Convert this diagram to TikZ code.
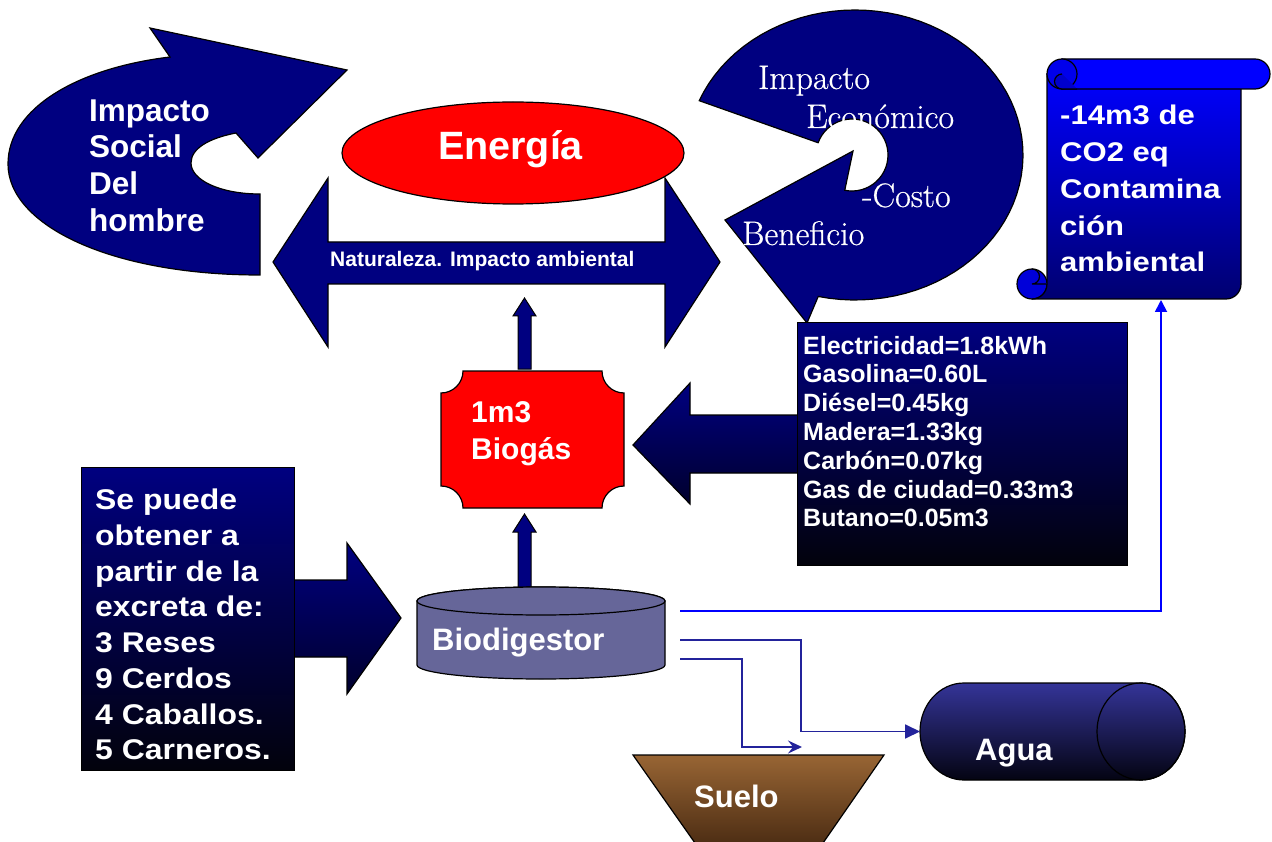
\documentclass[tikz,border=0pt]{standalone}
\usepackage{fontspec}
\setsansfont{Liberation Sans}
\newfontfamily\widesans[FakeStretch=1.15]{Liberation Sans}
\newfontfamily\midsans[FakeStretch=1.12]{Liberation Sans}
\newfontfamily\heavyserif[FakeBold=0.6]{Latin Modern Roman}
\usetikzlibrary{arrows.meta}
\definecolor{navy}{RGB}{0,0,128}
\definecolor{navydark}{RGB}{0,0,45}
\definecolor{nearblack}{RGB}{2,2,12}
\definecolor{slate}{RGB}{102,102,153}
\definecolor{soil}{RGB}{152,101,52}
\definecolor{soildark}{RGB}{78,46,20}
\definecolor{water}{RGB}{52,52,152}
\definecolor{waterdark}{RGB}{4,4,18}
\definecolor{scrollblue}{RGB}{0,0,255}
\definecolor{scrolldark}{RGB}{0,0,112}
\definecolor{linkblue}{RGB}{0,0,255}
\definecolor{linknavy}{RGB}{35,35,155}
\begin{document}
\begin{tikzpicture}[x=1pt,y=-1pt,
  outl/.style={draw=black,line width=1.2pt,line join=miter},
  wtxt/.style={text=white,inner sep=0pt},
  bigsans/.style={font=\sffamily\bfseries\fontsize{31.5}{36.7}\selectfont},
  serifsz/.style={text=white,inner sep=0pt,font=\heavyserif\fontsize{34}{34}\selectfont},
  link/.style={line width=1.8pt}]
\fill[white] (0,0) rectangle (1272,842);
\useasboundingbox (0,0) rectangle (1272,842);

% ---- Impacto social curved arrow
\draw[outl, fill=navy] (150,28) -- (347,70) -- (258,158) -- (236,133)
  .. controls (210,138) and (191,148) .. (191,163)
  .. controls (191,180) and (220,194) .. (260,194)
  -- (260,275)
  .. controls (110,275) and (8,225) .. (8,164)
  .. controls (8,108) and (78,68) .. (170,57) -- cycle;
\node[wtxt, bigsans, anchor=west, align=left] (social) at (89,165.5) {Impacto\\Social\\Del\\hombre};

% ---- Impacto economico curved arrow
\draw[outl, fill=navy] (818,297)
  -- plot[domain=102.6:-158, samples=70] ({855+168*cos(\x)},{155+145*sin(\x)})
  -- (816,142)
  -- plot[domain=-160:101.6, samples=40] ({852+36*cos(\x)},{155+36*sin(\x)})
  -- (853,151) -- (725,220) -- (807,323) -- cycle;
\node[serifsz, anchor=base west] (eco1) at (758,89) {Impacto};
\node[serifsz, anchor=base west] (eco2) at (806,128) {Económico};
\node[serifsz, anchor=base west] (eco3) at (862,207) {-Costo};
\node[serifsz, anchor=base west] (eco4) at (742,245) {Beneficio};

% ---- double arrow
\draw[outl, fill=navy] (273,262) -- (328,178) -- (328,242) -- (665,242) -- (665,178)
  -- (720,262) -- (665,347) -- (665,284) -- (328,284) -- (328,347) -- cycle;
\node[wtxt, anchor=base west, font=\sffamily\bfseries\fontsize{21}{21}\selectfont] (nat) at (330,267) {Naturaleza. Impacto ambiental};

% ---- Energia
\draw[outl, fill=red] (513,153) ellipse[x radius=171, y radius=51];
\node[wtxt, anchor=base, font=\sffamily\bfseries\fontsize{39.5}{40}\selectfont] (energia) at (510.5,160) {Energía};

% ---- small up arrows
\draw[outl, line width=1pt, fill=navy] (518,369) -- (518,316) -- (513,316) -- (524.5,298) -- (536,316) -- (531,316) -- (531,369) -- cycle;
\draw[outl, line width=1pt, fill=navy] (518,588) -- (518,532) -- (513,532) -- (524.5,514) -- (536,532) -- (531,532) -- (531,588) -- cycle;

% ---- Biogas plaque
\draw[outl, fill=red] (463,371) -- (602,371) arc[start angle=180,end angle=90,radius=22]
  -- (624,486) arc[start angle=-90,end angle=-180,radius=22]
  -- (463,508) arc[start angle=0,end angle=-90,radius=22]
  -- (441,393) arc[start angle=90,end angle=0,radius=22] -- cycle;
\node[wtxt, anchor=west, align=left, font=\sffamily\bfseries\fontsize{30}{37}\selectfont] (biogas) at (471,434) {1m3\\Biogás};

% ---- big left arrow into biogas
\draw[outl, top color=navy, bottom color=navydark] (633,445) -- (690,383) -- (690,415) -- (800,415)
  -- (800,473) -- (690,473) -- (690,504) -- cycle;

% ---- equivalences box
\draw[outl, line width=1pt, top color=navy, bottom color=nearblack] (797,323) rectangle (1127,565);
\node[wtxt, anchor=west, align=left, font=\sffamily\bfseries\fontsize{25}{28.8}\selectfont] (equiv) at (803,431.5)
  {Electricidad=1.8kWh\\Gasolina=0.60L\\Diésel=0.45kg\\Madera=1.33kg\\Carbón=0.07kg\\Gas de ciudad=0.33m3\\Butano=0.05m3};

% ---- big right arrow into biodigestor
\draw[outl, top color=navy, bottom color=navydark] (292,580) -- (347,580) -- (347,543) -- (401,618)
  -- (347,694) -- (347,657) -- (292,657) -- cycle;

% ---- source box
\draw[outl, line width=1pt, top color=navy, bottom color=nearblack] (81,467) rectangle (294,770);
\node[wtxt, anchor=west, align=left, font=\midsans\bfseries\fontsize{28.5}{35.7}\selectfont] (fuente) at (95,624.6)
  {Se puede\\obtener a\\partir de la\\excreta de:\\3 Reses\\9 Cerdos\\4 Caballos.\\5 Carneros.};

% ---- Biodigestor cylinder
\draw[outl, fill=slate] (417,601) -- (417,665) arc[start angle=180,end angle=0,x radius=124,y radius=14]
  -- (665,601) arc[start angle=0,end angle=-180,x radius=124,y radius=14] -- cycle;
\draw[outl, fill=slate] (541,601) ellipse[x radius=124, y radius=14];
\node[wtxt, anchor=base west, font=\sffamily\bfseries\fontsize{31}{31}\selectfont] (biodig) at (432,650) {Biodigestor};

% ---- Suelo
\draw[outl, top color=soil, bottom color=soildark] (633,755) -- (884,755) -- (823,843) -- (695,843) -- cycle;
\node[wtxt, anchor=base west, font=\sffamily\bfseries\fontsize{31}{31}\selectfont] (suelo) at (694,807) {Suelo};

% ---- Agua cylinder
\draw[outl, top color=water, bottom color=waterdark] (964,683) -- (1141,683)
  arc[start angle=-90,end angle=90,x radius=44,y radius=48.5]
  -- (964,780) arc[start angle=90,end angle=270,x radius=44,y radius=48.5] -- cycle;
\draw[outl] (1141,731.5) ellipse[x radius=44, y radius=48.5];
\node[wtxt, anchor=base west, font=\sffamily\bfseries\fontsize{31}{31}\selectfont] (agua) at (975,760) {Agua};

% ---- scroll
\draw[outl, fill=scrollblue!85!black] (1032,284) circle[radius=15];
\draw[outl, top color=scrollblue, bottom color=scrolldark] (1047,74) -- (1047,284)
  arc[start angle=0,end angle=90,radius=15] -- (1226,299)
  arc[start angle=90,end angle=0,radius=15] -- (1241,74) -- cycle;
\draw[outl, fill=scrollblue!85!black] (1032,269) arc[start angle=-90,end angle=90,radius=7.5] -- (1047,284);
\draw[outl, fill=scrollblue] (1062,59) -- (1255,59) arc[start angle=-90,end angle=90,radius=15] -- (1062,89) -- cycle;
\draw[outl, fill=scrollblue!92!black] (1062,74) circle[radius=15];
\draw[outl, fill=scrollblue!80!black] (1062,74) arc[start angle=-90,end angle=-270,radius=7.5] -- (1077,89);
\node[wtxt, anchor=west, align=left, font=\widesans\bfseries\fontsize{27}{36.75}\selectfont] (co2) at (1060,188.7)
  {-14m3 de\\CO2 eq\\Contamina\\ción\\ambiental};

% ---- connectors
\coordinate (bdA) at (680,611);
\coordinate (bdB) at (680,640);
\coordinate (bdC) at (680,659);
\coordinate (co2in) at (1161,300);
\coordinate (aguain) at (920,731.5);
\coordinate (sueloin) at (802,747);
\draw[link, linkblue, -{Triangle[length=12pt,width=12pt]}] (bdA) -| (co2in);
\draw[link, linknavy, -{Triangle[length=15pt,width=14pt]}] (bdB) -- (801,640) |- (aguain);
\draw[link, linknavy, -{Stealth[length=14pt,width=13pt,inset=5pt]}] (bdC) -- (742,659) |- (sueloin);
\end{tikzpicture}
\end{document}
